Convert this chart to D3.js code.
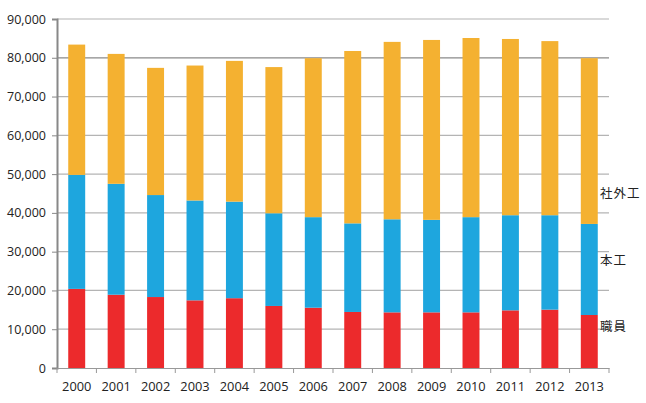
<!DOCTYPE html>
<html><head><meta charset="utf-8">
<script src="https://cdn.jsdelivr.net/npm/d3@7"></script>
<style>
body{margin:0;background:#fff;}
svg text{font-family:"Open Sans","DejaVu Sans",sans-serif;fill:#222;}
</style></head>
<body><svg id="c" width="646" height="403"></svg>
<script>
const years = ["2000","2001","2002","2003","2004","2005","2006","2007","2008","2009","2010","2011","2012","2013"];
const staff   = [20400,18900,18300,17450,18000,16000,15550,14450,14350,14350,14350,14870,15050,13670];
const regular = [29400,28600,26300,25750,24900,23900,23350,22850,24000,23850,24550,24530,24350,23480];
const outside = [33600,33500,32800,34800,36300,37700,41000,44450,45750,46400,46200,45450,44900,42750];
const seriesNames = ["職員","本工","社外工"];
const labelAt = [10600,27600,44900];
const colors = ["#EC2A2C","#1EA6DE","#F4B131"];
const yTicks = [0,10000,20000,30000,40000,50000,60000,70000,80000,90000];

const svg = d3.select("#c");
const m = {l:57, r:609, t:19, b:368};
const x = d3.scaleBand().domain(years).range([m.l, m.r]).paddingInner(0.57).paddingOuter(0.285);
const xb = d3.scaleBand().domain(years).range([m.l, m.r]);
const y = d3.scaleLinear().domain([0,90000]).range([m.b, m.t]);

// gridlines
svg.append("g").selectAll("line").data(yTicks.filter(d=>d>0)).join("line")
  .attr("x1", m.l).attr("x2", m.r).attr("y1", d=>y(d)).attr("y2", d=>y(d))
  .attr("stroke", d=> d===80000 ? "#8a8a8a" : "#b4b4b4").attr("stroke-width",1.2);

const rows = years.map((yr,i)=>({year:yr, s0:staff[i], s1:regular[i], s2:outside[i]}));
const stack = d3.stack().keys(["s0","s1","s2"])(rows);
svg.append("g").selectAll("g").data(stack).join("g")
  .attr("fill",(d,i)=>colors[i])
  .selectAll("rect").data(d=>d).join("rect")
  .attr("x", d=>x(d.data.year)).attr("width", x.bandwidth())
  .attr("y", d=>y(d[1])).attr("height", d=>y(d[0])-y(d[1]));

// y axis
const ya = svg.append("g").attr("transform",`translate(${m.l},0)`)
  .call(d3.axisLeft(y).tickValues(yTicks).tickFormat(d3.format(",")).tickSize(5).tickPadding(6));
ya.select(".domain").attr("stroke","#888").attr("stroke-width",2);
ya.selectAll(".tick line").attr("stroke","#888");
ya.selectAll("text").attr("font-size","12.5px").attr("fill","#222").style("font-family",'"Open Sans","DejaVu Sans",sans-serif');

// x axis
const xa = svg.append("g").attr("transform",`translate(0,${m.b})`)
  .call(d3.axisBottom(xb).tickSize(0).tickPadding(14));
xa.select(".domain").attr("stroke","#999").attr("stroke-width",1.2);
xa.selectAll("text").attr("font-size","12.8px").attr("fill","#222").style("font-family",'"Open Sans","DejaVu Sans",sans-serif');
svg.append("g").selectAll("line").data(years.concat(["end"])).join("line")
  .attr("x1",(d,i)=>m.l + i*xb.bandwidth()).attr("x2",(d,i)=>m.l + i*xb.bandwidth())
  .attr("y1",m.b).attr("y2",m.b+5).attr("stroke","#999");

// series labels at right
svg.append("g").selectAll("text").data(seriesNames).join("text")
  .attr("x", 600)
  .attr("y",(d,i)=>y(labelAt[i]))
  .attr("dy","0.35em")
  .attr("font-size","12.5px")
  .attr("letter-spacing","1px")
  .style("font-family",'"Noto Sans CJK JP",sans-serif')
  .attr("fill","#222")
  .text(d=>d);
</script></body></html>
